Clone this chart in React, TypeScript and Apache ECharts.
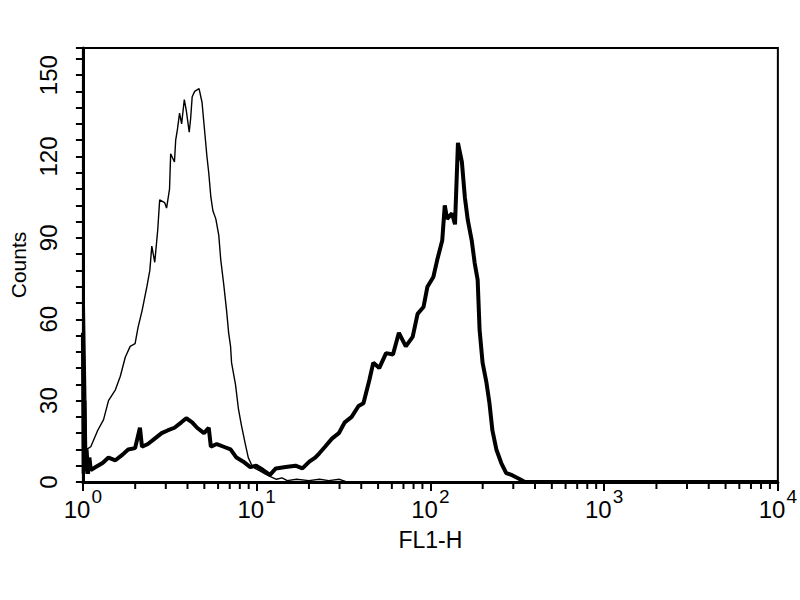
import React, { useEffect, useRef } from "react";
import * as echarts from "echarts";

// FL1-H channel values (log scale) and counts
const controlX = [1.0, 1.05, 1.11, 1.216, 1.315, 1.404, 1.538, 1.642, 1.753, 1.871, 1.997, 2.077, 2.188, 2.335, 2.428, 2.492, 2.592, 2.696, 2.766, 2.953, 3.031, 3.152, 3.2, 3.365, 3.42, 3.5, 3.6, 3.7, 3.834, 3.935, 4.092, 4.17, 4.256, 4.4, 4.662, 4.849, 4.977, 5.175, 5.3, 5.452, 5.6, 5.821, 6.053, 6.213, 6.461, 6.719, 6.9, 7.078, 7.171, 7.553, 7.855, 8.169, 8.607, 8.951, 9.4, 9.806, 10.5, 11.17, 12.0, 13, 14, 15, 17, 20, 23, 26, 30, 33, 10000];
const controlY = [98, 12, 13, 19, 23, 30, 34, 39, 46, 50, 51, 57, 63, 72, 78, 87, 81, 93, 104, 103, 101, 108, 121, 118, 126, 130, 136, 132, 141, 137, 129, 134, 142, 144, 145, 140, 132, 120, 114, 105, 100, 97, 91, 82, 73, 63, 55, 50, 44, 36, 27, 21, 14, 9, 6, 5, 4, 3, 2, 1, 1.5, 0.5, 1, 0.5, 1, 0.5, 1, 0, 0];

const sampleX = [1.0, 1.01, 1.02, 1.03, 1.05, 1.07, 1.09, 1.11, 1.185, 1.298, 1.404, 1.538, 1.685, 1.822, 1.997, 2.13, 2.188, 2.366, 2.592, 2.84, 3.071, 3.365, 3.687, 3.935, 4.256, 4.542, 4.977, 5.3, 5.452, 5.897, 6.461, 7.078, 7.653, 8.385, 9.189, 9.935, 10.89, 11.93, 12.9, 14.69, 16.74, 18.34, 20.1, 21.73, 22.89, 24.76, 27.13, 29.72, 32.15, 35.22, 38.59, 41.19, 44.55, 46.94, 50.76, 55.59, 60.91, 65.88, 72.19, 79.07, 84.4, 91.27, 96.17, 104, 109.6, 117, 121, 124.8, 133.2, 138.6, 144.1, 151.8, 157.9, 164.2, 173, 179.9, 187.1, 192, 199.7, 210.4, 218.8, 227.5, 239.7, 255.9, 273.2, 295.4, 323.6, 350, 10000];
const sampleY = [55, 3, 30, 4, 12, 3, 9, 4.4, 5.5, 7, 9, 8, 10, 12, 12.5, 20, 13, 14, 16, 18, 19, 20, 22, 23.5, 22, 20, 18, 20, 13, 14, 13, 12, 9, 7.5, 5.5, 6, 4.4, 2.6, 5, 5.5, 6, 5, 7.5, 9, 10.5, 13, 16, 18, 22, 24, 28, 29, 37.6, 44, 42, 47.5, 47, 55, 50, 53.5, 62, 64.5, 72, 75.6, 82, 89, 102, 97, 99, 95, 125, 118, 105, 96.5, 89, 80.7, 74.5, 56, 44, 36.5, 29, 19, 12, 7, 3.3, 2.5, 1.2, 0, 0];

const yLabelValues = [0, 30, 60, 90, 120, 150];
const decades = [0, 1, 2, 3];
const minorMultipliers = [2, 3, 4, 5, 6, 7, 8, 9];

export default function App() {
  const ref = useRef<HTMLDivElement>(null);
  useEffect(() => {
    if (!ref.current) return;
    const chart = echarts.init(ref.current, undefined, { renderer: "svg" });
    const minorTicks: number[][] = [];
    decades.forEach((d) => minorMultipliers.forEach((m) => minorTicks.push([m * Math.pow(10, d), 0])));
    const font = "'Liberation Sans', Arial, sans-serif";
    chart.setOption({
      animation: false,
      backgroundColor: "#fff",
      grid: {
        left: 77, right: 17, top: 48, bottom: 118,
        show: true, borderColor: "#000", borderWidth: 2, backgroundColor: "transparent",
      },
      xAxis: {
        type: "log", logBase: 10, min: 1, max: 10000, splitNumber: 4,
        name: "FL1-H", nameLocation: "middle", nameGap: 46,
        nameTextStyle: { color: "#000", fontSize: 23, fontFamily: font },
        axisLine: { lineStyle: { color: "#000", width: 3 } },
        axisTick: { length: 9, lineStyle: { color: "#000", width: 2 } },
        splitLine: { show: false },
        axisLabel: {
          margin: 10, color: "#000", fontFamily: font,
          formatter: (v: number) => `{b|10}{s|${Math.round(Math.log10(v))}}`,
          rich: {
            b: { fontSize: 24, lineHeight: 24, padding: [10, 0, 0, 0], fontFamily: font, color: "#000" },
            s: { fontSize: 19, lineHeight: 19, padding: [0, 0, 15, 1], fontFamily: font, color: "#000" },
          },
        },
      },
      yAxis: {
        type: "value", min: 0, max: 160, interval: 6,
        name: "Counts", nameLocation: "middle", nameGap: 52, nameRotate: 90,
        nameTextStyle: { color: "#000", fontSize: 21, fontFamily: font },
        axisLine: { show: true, lineStyle: { color: "#000", width: 3 } },
        axisTick: { show: true, length: 7, lineStyle: { color: "#000", width: 2 } },
        splitLine: { show: false },
        axisLabel: {
          rotate: 90, margin: 22, color: "#000", fontSize: 24, fontFamily: font,
          formatter: (v: number) => (yLabelValues.indexOf(v) >= 0 ? String(v) : ""),
        },
      },
      series: [
        {
          type: "line", name: "control", symbol: "none",
          data: controlX.map((x, i) => [x, controlY[i]]),
          lineStyle: { color: "#000", width: 1.4 },
        },
        {
          type: "line", name: "sample", symbol: "none",
          data: sampleX.map((x, i) => [x, sampleY[i]]),
          lineStyle: { color: "#000", width: 4 },
        },
        {
          type: "custom", name: "minorTicks", silent: true, clip: false,
          data: minorTicks,
          renderItem: (params: any, api: any) => {
            const p = api.coord([api.value(0), 0]);
            return {
              type: "line",
              shape: { x1: p[0], y1: p[1], x2: p[0], y2: p[1] + 7 },
              style: { stroke: "#000", lineWidth: 2 },
            };
          },
        },
      ],
    });
    return () => chart.dispose();
  }, []);
  return <div ref={ref} style={{ position: "fixed", left: 0, top: 0, width: 800, height: 600 }} />;
}
